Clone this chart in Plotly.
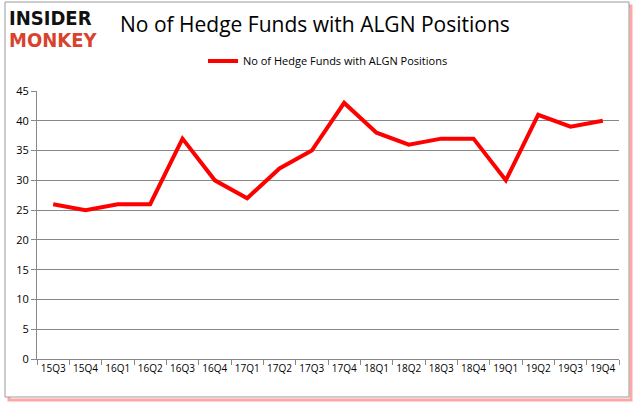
import plotly.graph_objects as go

quarters = ["15Q3","15Q4","16Q1","16Q2","16Q3","16Q4","17Q1","17Q2","17Q3","17Q4",
            "18Q1","18Q2","18Q3","18Q4","19Q1","19Q2","19Q3","19Q4"]
funds = [26,25,26,26,37,30,27,32,35,43,38,36,37,37,30,41,39,40]
y_ticks = [0,5,10,15,20,25,30,35,40,45]
series_name = "No of Hedge Funds with ALGN Positions"

W, H = 634, 404
L, R, T, B = 37, 15, 91, 45
pw, ph = W - L - R, H - T - B

def px(x):
    return (x - L) / pw

def py(y):
    return (H - B - y) / ph

fig = go.Figure()
fig.add_trace(go.Scatter(x=quarters, y=funds, mode="lines", name=series_name,
                         line=dict(color="#ff0000", width=4)))

fig.update_layout(
    width=W, height=H,
    margin=dict(l=L, r=R, t=T, b=B, autoexpand=False),
    paper_bgcolor="white", plot_bgcolor="white",
    font=dict(family="Open Sans, DejaVu Sans", size=11, color="#000000"),
    showlegend=True,
    legend=dict(orientation="h", x=0.5, xanchor="center", y=py(61), yanchor="middle",
                font=dict(size=11), bgcolor="rgba(0,0,0,0)"),
    title=dict(text="No of Hedge Funds with ALGN Positions", x=(120) / W, xanchor="left",
               y=1 - 25 / H, yanchor="middle",
               font=dict(family="Open Sans, DejaVu Sans", size=21, color="#000000")),
    xaxis=dict(type="category", range=[-0.5, 17.5], showgrid=False,
               showline=True, linecolor="#888888", linewidth=1,
               ticks="outside", ticklen=5, tickcolor="#888888", tickangle=0,
               tickson="boundaries", tickfont=dict(size=10)),
    yaxis=dict(range=[0, 45], tickvals=y_ticks, showgrid=True, gridcolor="#888888",
               gridwidth=1, showline=True, linecolor="#888888", ticks="outside",
               ticklen=5, tickcolor="#888888", zeroline=False, tickfont=dict(size=11)),
)

# red shadow and grey frame
fig.add_shape(type="rect", xref="paper", yref="paper",
              x0=px(9), x1=px(631), y0=py(400), y1=py(6),
              line=dict(color="rgba(255,0,0,0.35)", width=3), fillcolor="rgba(0,0,0,0)", layer="below")
fig.add_shape(type="rect", xref="paper", yref="paper",
              x0=px(5), x1=px(629), y0=py(397), y1=py(2),
              line=dict(color="#999999", width=1), fillcolor="white", layer="below")

fig.add_annotation(text="<b>INSIDER</b>", xref="paper", yref="paper", x=px(7), y=py(18),
                   xanchor="left", yanchor="middle", showarrow=False,
                   font=dict(family="DejaVu Sans Condensed, DejaVu Sans", size=20, color="#111111"))
fig.add_annotation(text="<b>MONKEY</b>", xref="paper", yref="paper", x=px(7), y=py(40),
                   xanchor="left", yanchor="middle", showarrow=False,
                   font=dict(family="DejaVu Sans Condensed, DejaVu Sans", size=20, color="#d9432e"))

fig.write_html("out.html", post_script="document.body.style.margin='0';",
               config={"displayModeBar": False})
